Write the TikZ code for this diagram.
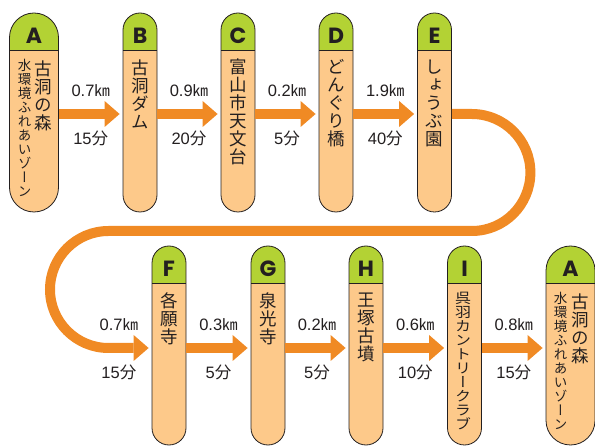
\documentclass[tikz,border=0pt]{standalone}
\usepackage{fontspec}
\setmainfont{Liberation Sans}
\newfontfamily\jpfont[RawFeature=+vert]{Noto Sans CJK JP}
\newfontfamily\jpflat{Noto Sans CJK JP}
\newfontfamily\capfont{Poppins}
\usepackage{xcolor}
\usetikzlibrary{positioning, calc, arrows.meta}

\definecolor{routeorange}{HTML}{F08A24}
\definecolor{pillfill}{HTML}{FDC98A}
\definecolor{capgreen}{HTML}{B3D234}
\definecolor{inkgray}{HTML}{231F20}

\newcommand{\kmu}{{\jpflat\fontsize{15.5}{15.5}\selectfont ㎞}}
\newcommand{\fun}{{\jpflat 分}}

\tikzset{
  pill/.style={draw=inkgray, line width=0.8pt, fill=pillfill, rounded corners=17pt,
    minimum width=34pt, minimum height=199pt, inner sep=0pt,
    path picture={
      \fill[capgreen, sharp corners] (path picture bounding box.north west)
        rectangle ([yshift=-37pt]path picture bounding box.north east);
      \draw[inkgray, line width=0.8pt, sharp corners] ([yshift=-37pt]path picture bounding box.north west)
        -- ([yshift=-37pt]path picture bounding box.north east);}},
  widepill/.style={pill, minimum width=49pt, rounded corners=24.5pt},
  stopletter/.style={font=\capfont\bfseries\fontsize{22}{22}\selectfont, text=inkgray, anchor=base, inner sep=0pt},
  vjp/.style={font=\jpfont\fontsize{17.5}{18}\selectfont, text=inkgray, align=center, anchor=north, inner sep=0pt},
  vjpsmall/.style={vjp, font=\jpfont\fontsize{13.5}{14}\selectfont},
  route/.style={draw=routeorange, line width=10pt,
    -{Triangle[length=15pt, width=26pt, line width=0pt]}, shorten >=3pt},
  dist/.style={font=\fontsize{16.5}{16.5}\selectfont, text=inkgray, anchor=base, inner sep=0pt},
}

\begin{document}
\begin{tikzpicture}[x=1pt, y=1pt]
  \useasboundingbox (0,0) rectangle (595,-446);

  % --- Rows ---
  \coordinate (r1) at (0,-114);
  \coordinate (r2) at (0,-348);

  % --- Top row stops ---
  \node[widepill] (A) at (34,-112.5) {};
  \foreach \n/\x in {B/140, C/238, D/336, E/434.5}
    \node[pill] (\n) at (\x,-112.5) {};

  % --- Bottom row stops ---
  \foreach \n/\x in {F/169, G/268, H/366, I/464.5}
    \node[pill] (\n) at (\x,-345.5) {};
  \node[widepill] (A2) at (570.5,-345.5) {};

  % --- Stop letters ---
  \foreach \n/\l in {A/A, B/B, C/C, D/D, E/E, F/F, G/G, H/H, I/I, A2/A}
    \node[stopletter] (\n-cap) at ([yshift=-30.5pt]\n.north) {\l};

  % --- Stop names (vertical) ---
  \node[vjp] (A-name) at ([xshift=9.5pt, yshift=-48pt]A.north) {古\\洞\\の\\森};
  \node[vjpsmall] (A-sub) at ([xshift=-9.5pt, yshift=-46pt]A.north) {水\\環\\境\\ふ\\れ\\あ\\い\\ゾ\\ー\\ン};
  \node[vjp] (B-name) at ([yshift=-47pt]B.north) {古\\洞\\ダ\\ム};
  \node[vjp] (C-name) at ([yshift=-46pt]C.north) {富\\山\\市\\天\\文\\台};
  \node[vjp] (D-name) at ([yshift=-47pt]D.north) {ど\\ん\\ぐ\\り\\橋};
  \node[vjp] (E-name) at ([yshift=-47pt]E.north) {し\\ょ\\う\\ぶ\\園};
  \node[vjp] (F-name) at ([yshift=-47pt]F.north) {各\\願\\寺};
  \node[vjp] (G-name) at ([yshift=-47pt]G.north) {泉\\光\\寺};
  \node[vjp] (H-name) at ([yshift=-47pt]H.north) {王\\塚\\古\\墳};
  \node[vjp, font=\jpfont\fontsize{16}{16}\selectfont, yscale=0.88] (I-name) at ([xshift=-1.5pt, yshift=-46pt]I.north)
    {呉\\羽\\カ\\ン\\ト\\リ\\ー\\ク\\ラ\\ブ};
  \node[vjp] (A2-name) at ([xshift=9.5pt, yshift=-48pt]A2.north) {古\\洞\\の\\森};
  \node[vjpsmall] (A2-sub) at ([xshift=-10pt, yshift=-46pt]A2.north) {水\\環\\境\\ふ\\れ\\あ\\い\\ゾ\\ー\\ン};

  % --- Arrows: distance above, time below ---
  \foreach \a/\b/\d/\t in {A/B/0.7/15, B/C/0.9/20, C/D/0.2/5, D/E/1.9/40}
    \draw[route] (\a.east |- r1) -- node[dist, yshift=17pt] (d-\a) {\d\kmu}
      node[dist, yshift=-31pt] (t-\a) {\t\fun} (\b.west |- r1);

  % loop from E back round to F
  \draw[route] (E.east |- r1) -- ++(20,0)
    arc[start angle=90, end angle=-90, radius=58.5]
    -- (108.5,-231)
    arc[start angle=90, end angle=270, radius=58.5]
    -- node[dist, pos=0.24, yshift=17pt] (d-E) {0.7\kmu}
       node[dist, pos=0.24, yshift=-31pt] (t-E) {15\fun} (F.west |- r2);

  \foreach \a/\b/\d/\t in {F/G/0.3/5, G/H/0.2/5, H/I/0.6/10, I/A2/0.8/15}
    \draw[route] (\a.east |- r2) -- node[dist, yshift=17pt] (d-\a) {\d\kmu}
      node[dist, yshift=-31pt] (t-\a) {\t\fun} (\b.west |- r2);

\end{tikzpicture}
\end{document}
